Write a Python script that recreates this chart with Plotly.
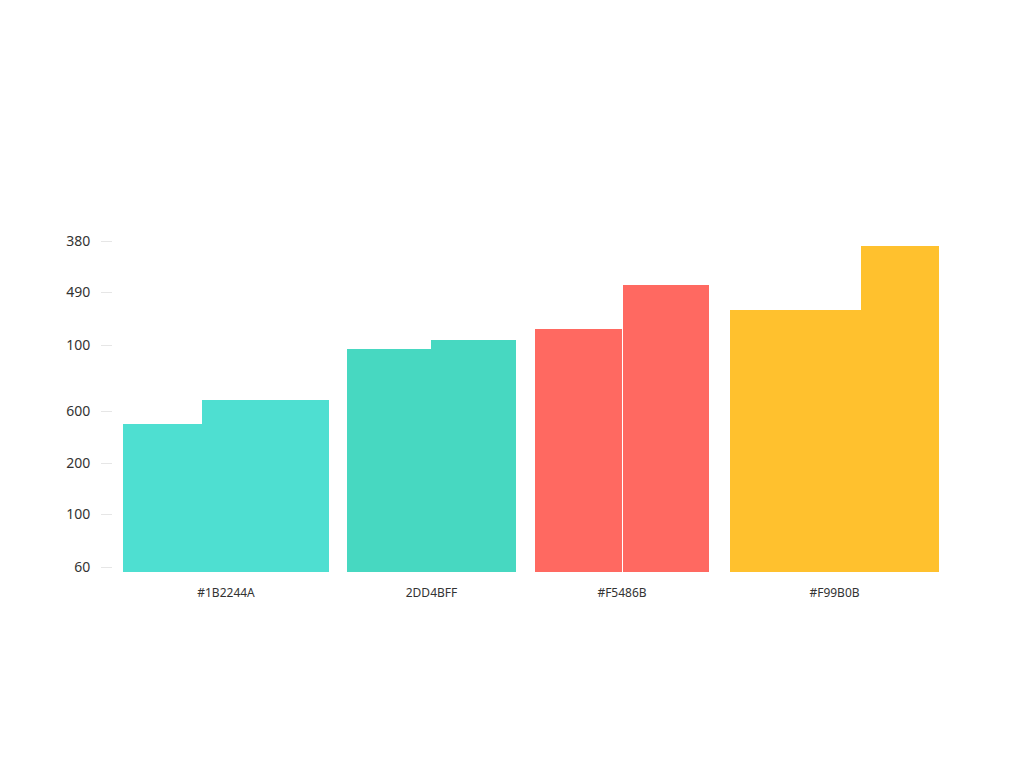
import numpy as np
import plotly.graph_objects as go

# === DATA ===
groups = ["#1B2244A", "2DD4BFF", "#F5486B", "#F99B0B"]
values_left = [148, 223, 243, 262]
values_right = [172, 232, 287, 326]
y_tick_vals = [5, 58, 109, 161, 227, 280, 331]
y_tick_text = ["60", "100", "200", "600", "100", "490", "380"]

# === LAYOUT / STYLE ===
colors = ["#4EDFD1", "#47D8C1", "#FF6961", "#FFC12E"]
left_widths = [79, 84, 87, 131]
right_widths = [127, 85, 86, 78]
inner_gaps = [0, 0, 1, 0]
group_gaps = [18, 19, 21]
x_start = 10

# compute bar centers from widths and gaps
left_x, right_x, centers = [], [], []
pos = x_start
for i in range(len(groups)):
    g_start = pos
    left_x.append(pos + left_widths[i] / 2)
    pos += left_widths[i] + inner_gaps[i]
    right_x.append(pos + right_widths[i] / 2)
    pos += right_widths[i]
    centers.append((g_start + pos) / 2)
    if i < len(group_gaps):
        pos += group_gaps[i]

fig = go.Figure()
fig.add_trace(go.Bar(
    x=left_x, y=values_left, width=left_widths,
    marker=dict(color=colors, line=dict(width=0)),
    showlegend=False,
))
fig.add_trace(go.Bar(
    x=right_x, y=values_right, width=right_widths,
    marker=dict(color=colors, line=dict(width=0)),
    showlegend=False,
))

# page body adds an 8px margin, so margins are shifted by 8
fig.update_layout(
    width=1024, height=768,
    margin=dict(l=105, r=82, t=192, b=204),
    paper_bgcolor="white", plot_bgcolor="white",
    barmode="overlay",
    font=dict(family="Noto Sans, DejaVu Sans, sans-serif", color="#333333"),
    xaxis=dict(
        range=[0, 837], tickmode="array", tickvals=centers, ticktext=groups,
        showgrid=False, zeroline=False, showline=False,
        ticks="", ticklabelstandoff=12, tickfont=dict(size=12, color="#333333"),
    ),
    yaxis=dict(
        range=[0, 372], tickmode="array", tickvals=y_tick_vals, ticktext=y_tick_text,
        showgrid=False, zeroline=False, showline=False,
        ticks="outside", ticklen=11, tickcolor="#e6e6e6", tickwidth=1,
        ticklabelstandoff=8, tickfont=dict(size=14, color="#333333"),
    ),
)

fig.write_html("out.html")
